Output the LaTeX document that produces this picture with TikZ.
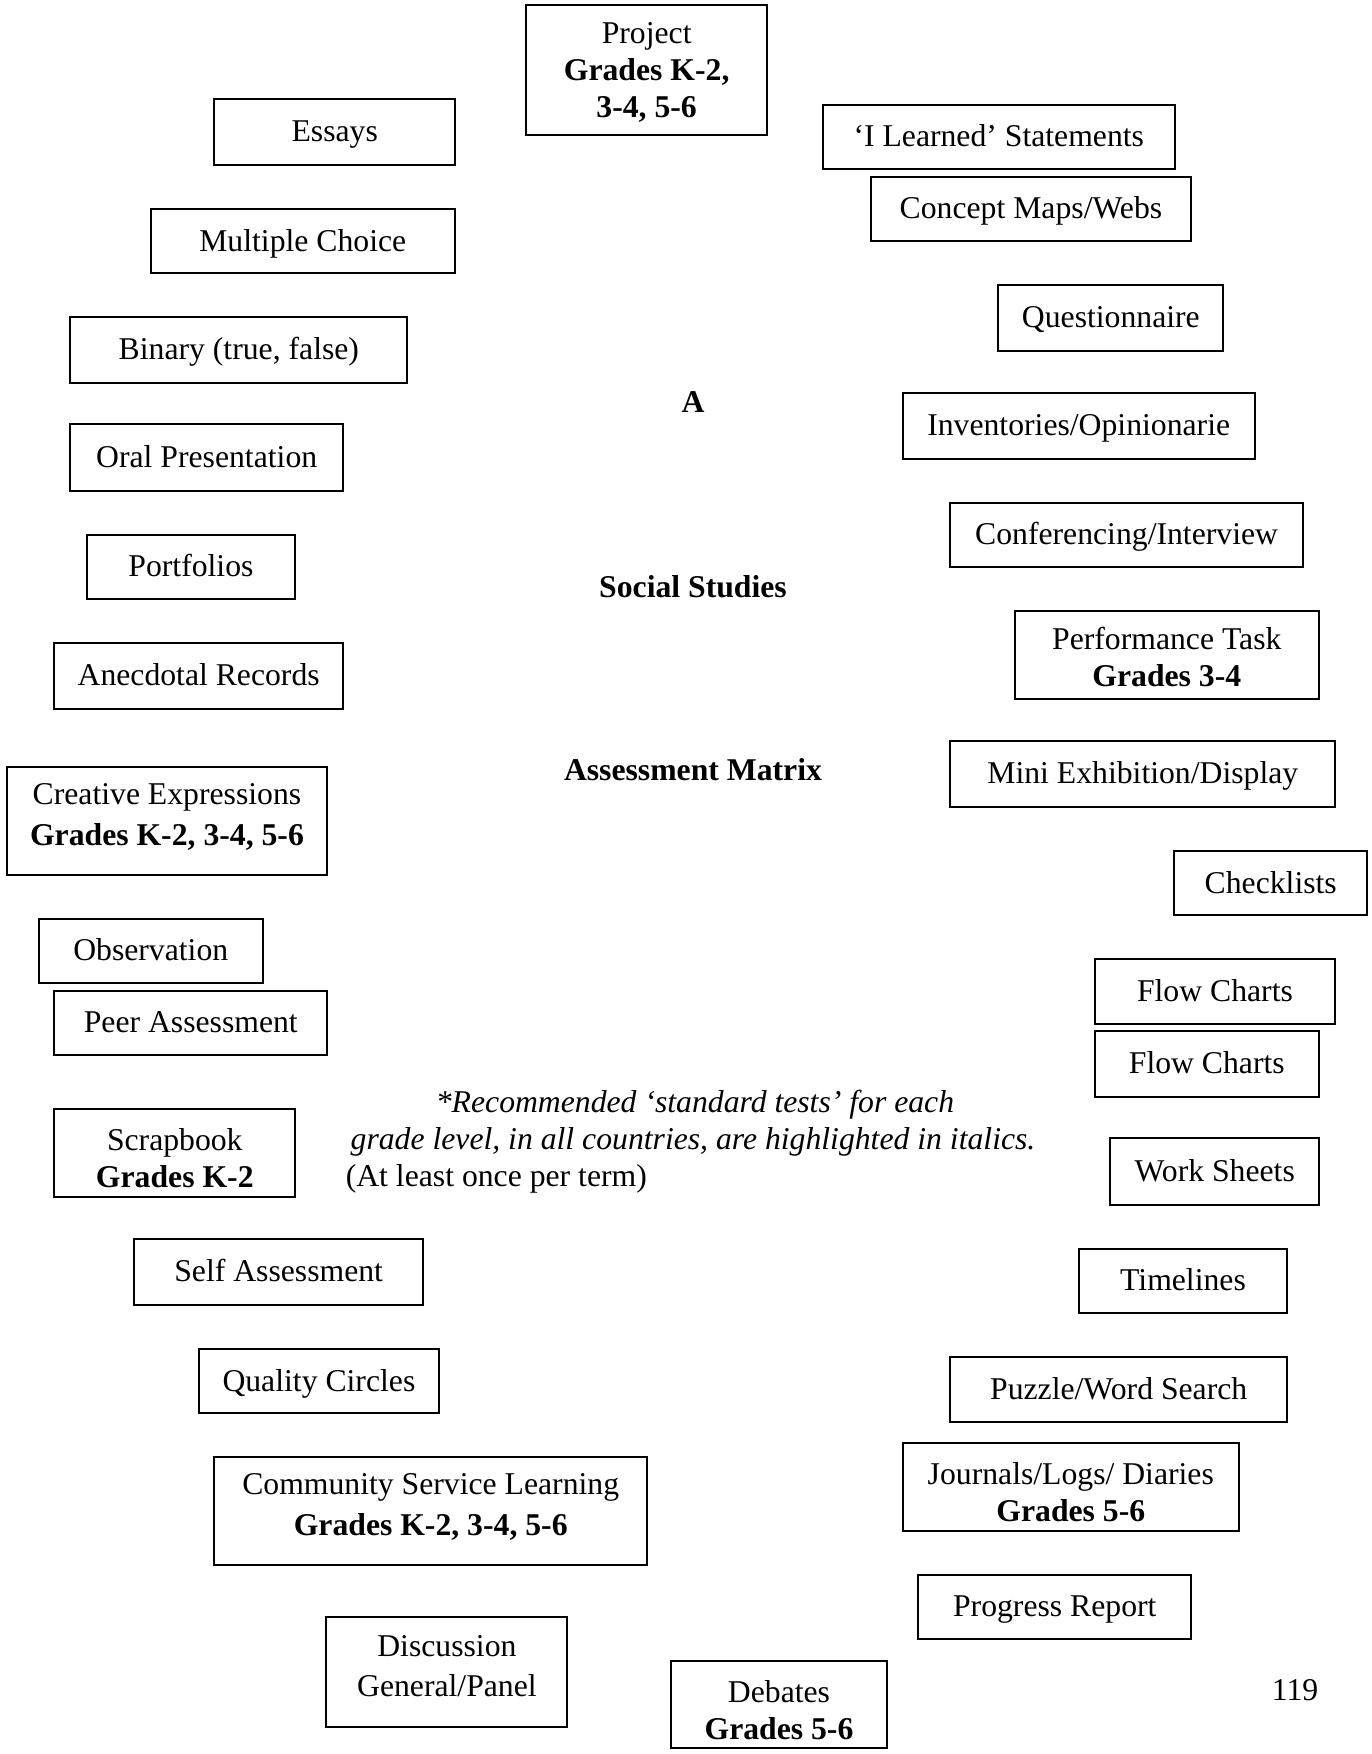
\documentclass[tikz,border=0pt]{standalone}
\usepackage{fontspec}
\setmainfont{Liberation Serif}
\newcommand{\fs}{\fontsize{31.7}{37}\selectfont}
% line struts (height above baseline / depth below): 29/8, 33/8, 40/8, 29/20
\newcommand{\Ln}{\rule[-8pt]{0pt}{37pt}}
\newcommand{\Lt}{\rule[-8pt]{0pt}{41pt}}
\newcommand{\Lv}{\rule[-8pt]{0pt}{48pt}}
\newcommand{\Lb}{\rule[-20pt]{0pt}{49pt}}
\begin{document}
\begin{tikzpicture}[x=1pt,y=-1pt,
  box/.style={draw, line width=2pt, inner sep=0pt, font=\fs, text height=23pt, text depth=3pt},
  boxm/.style={draw, line width=2pt, inner sep=0pt, font=\fs, align=center},
  lbl/.style={inner sep=0pt, anchor=base, font=\fs}]
\fill[white] (0,0) rectangle (1372,1754);
\useasboundingbox (0,0) rectangle (1372,1754);

% left column
\node[boxm, minimum width=240.7, minimum height=130.2] (project) at (646.65,70) {\Ln Project\\\Ln\textbf{Grades K-2,}\\\Ln\textbf{3-4, 5-6}};
\node[box, minimum width=240.6, minimum height=66] (essays) at (334.7,131.9) {Essays};
\node[box, minimum width=304.5, minimum height=63.5] (mc) at (302.75,241.05) {Multiple Choice};
\node[box, minimum width=336.9, minimum height=66] (binary) at (238.85,349.8) {Binary (true, false)};
\node[box, minimum width=272.6, minimum height=66.7] (oral) at (206.7,457.65) {Oral Presentation};
\node[box, minimum width=208.7, minimum height=63.9] (portfolios) at (190.95,566.8) {Portfolios};
\node[box, minimum width=288.7, minimum height=66.1] (anecdotal) at (198.65,675.95) {Anecdotal Records};
\node[boxm, minimum width=320.7, minimum height=108] (creative) at (166.95,820.8) {\Ln Creative Expressions\\[4pt]\Lb\textbf{Grades K-2, 3-4, 5-6}};
\node[box, minimum width=224.5, minimum height=63.9] (observation) at (150.75,950.95) {Observation};
\node[box, minimum width=273, minimum height=63.8] (peer) at (190.8,1022.7) {Peer Assessment};
\node[boxm, minimum width=241, minimum height=88.2] (scrapbook) at (174.8,1152.9) {\Lv Scrapbook\\\Ln\textbf{Grades K-2}};
\node[box, minimum width=288.7, minimum height=65.7] (self) at (278.65,1271.85) {Self Assessment};
\node[box, minimum width=240.6, minimum height=64.3] (quality) at (318.9,1381.05) {Quality Circles};
\node[boxm, minimum width=432.6, minimum height=108.5] (community) at (430.7,1510.75) {\Ln Community Service Learning\\[4pt]\Lb\textbf{Grades K-2, 3-4, 5-6}};
\node[boxm, minimum width=241, minimum height=109.9] (discussion) at (446.9,1671.95) {\Ln Discussion\\[3pt]\Lb General/Panel};
\node[boxm, minimum width=216.6, minimum height=87.5] (debates) at (778.98,1704.55) {\Lv Debates\\\Ln\textbf{Grades 5-6}};

% right column
\node[box, minimum width=352.5, minimum height=64.1] (ilearned) at (998.75,136.95) {‘I Learned’ Statements};
\node[box, minimum width=320.7, minimum height=64.1] (concept) at (1030.95,208.95) {Concept Maps/Webs};
\node[box, minimum width=224.9, minimum height=66] (questionnaire) at (1110.85,317.7) {Questionnaire};
\node[box, minimum width=352.2, minimum height=66.1] (inventories) at (1078.7,425.95) {Inventories/Opinionarie};
\node[box, minimum width=352.6, minimum height=64.4] (conferencing) at (1126.6,534.8) {Conferencing/Interview};
\node[boxm, minimum width=304.4, minimum height=88] (performance) at (1166.8,655) {\Lt Performance Task\\\Ln\textbf{Grades 3-4}};
\node[box, minimum width=385, minimum height=65.6] (mini) at (1142.8,773.8) {Mini Exhibition/Display};
\node[box, minimum width=192.9, minimum height=63.8] (checklists) at (1270.75,883.1) {Checklists};
\node[box, minimum width=240.7, minimum height=65.6] (flowa) at (1214.95,991.6) {Flow Charts};
\node[box, minimum width=224.4, minimum height=66] (flowb) at (1206.8,1063.6) {Flow Charts};
\node[box, minimum width=208.6, minimum height=66.6] (worksheets) at (1214.7,1171.7) {Work Sheets};
\node[box, minimum width=208.2, minimum height=63.9] (timelines) at (1183,1280.65) {Timelines};
\node[box, minimum width=336.8, minimum height=65.6] (puzzle) at (1118.7,1389.6) {Puzzle/Word Search};
\node[boxm, minimum width=336.4, minimum height=87.9] (journals) at (1070.8,1486.95) {\Lv Journals/Logs/ Diaries\\\Ln\textbf{Grades 5-6}};
\node[box, minimum width=273, minimum height=63.5] (progress) at (1054.8,1606.75) {Progress Report};

% centre titles and notes
\node[lbl] (ta) at (693,412) {\textbf{A}};
\node[lbl] (tsocial) at (693,597) {\textbf{Social Studies}};
\node[lbl] (tmatrix) at (693,780) {\textbf{Assessment Matrix}};
\node[lbl] (note1) at (695,1112) {\textit{*Recommended ‘standard tests’ for each}};
\node[lbl] (note2) at (693,1149) {\textit{grade level, in all countries, are highlighted in italics.}};
\node[lbl, anchor=base west] (note3) at (345.6,1186) {(At least once per term)};
\node[lbl] (pagenum) at (1295,1700) {119};
\end{tikzpicture}
\end{document}
